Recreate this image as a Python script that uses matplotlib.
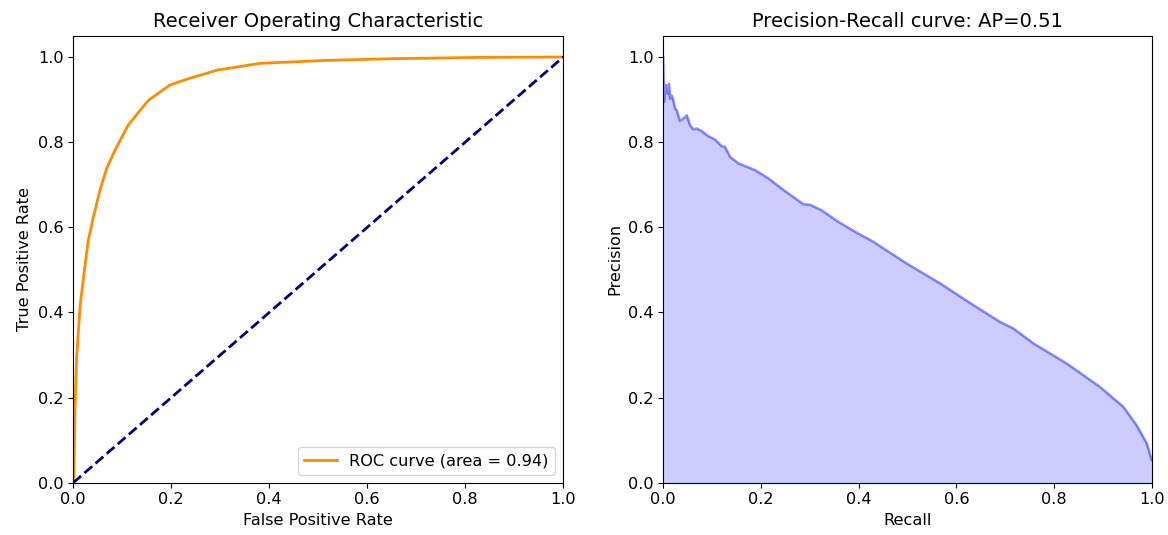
import matplotlib
matplotlib.use("Agg")
import matplotlib.pyplot as plt

# ROC curve points
fpr = [0.0, 0.0014, 0.0035, 0.0069, 0.0137, 0.0218, 0.0306, 0.041, 0.0545, 0.068,
       0.085, 0.112, 0.153, 0.197, 0.235, 0.293, 0.381, 0.517, 0.653, 0.823, 1.0]
tpr = [0.0, 0.022, 0.178, 0.296, 0.413, 0.492, 0.570, 0.624, 0.687, 0.738,
       0.781, 0.840, 0.898, 0.934, 0.949, 0.969, 0.985, 0.992, 0.996, 0.999, 1.0]
roc_auc = 0.94

# Precision-recall curve points
recall = [0.0, 0.0014, 0.0055, 0.009, 0.0117, 0.0137, 0.0172, 0.0205, 0.024, 0.0274,
          0.034, 0.041, 0.048, 0.0547, 0.0614, 0.068, 0.0786, 0.092, 0.106, 0.120,
          0.126, 0.137, 0.154, 0.171, 0.188, 0.215, 0.242, 0.270, 0.287, 0.300,
          0.324, 0.358, 0.393, 0.430, 0.498, 0.567, 0.635, 0.689, 0.717, 0.758,
          0.826, 0.894, 0.942, 0.969, 0.990, 1.0]
precision = [1.0, 0.894, 0.934, 0.914, 0.937, 0.902, 0.910, 0.898, 0.879, 0.875,
             0.850, 0.855, 0.863, 0.840, 0.830, 0.832, 0.826, 0.814, 0.806, 0.790,
             0.789, 0.765, 0.750, 0.742, 0.734, 0.715, 0.691, 0.668, 0.654, 0.653,
             0.640, 0.613, 0.589, 0.566, 0.515, 0.468, 0.417, 0.378, 0.362, 0.327,
             0.280, 0.225, 0.178, 0.135, 0.092, 0.053]
ap = 0.51

plt.rcParams['font.size'] = 11.6
plt.rcParams['axes.titlesize'] = 14

fig = plt.figure(figsize=(11.68, 5.35), dpi=100)
ax1 = fig.add_axes([73.3 / 1168, (535 - 482.7) / 535, 490 / 1168, 447 / 535])
ax2 = fig.add_axes([663.3 / 1168, (535 - 482.7) / 535, 488.4 / 1168, 447 / 535])

ax1.plot(fpr, tpr, color='darkorange', lw=2, label='ROC curve (area = %0.2f)' % roc_auc)
ax1.plot([0, 1], [0, 1], color='navy', lw=2, linestyle='--')
ax1.set_xlim([0.0, 1.0])
ax1.set_ylim([0.0, 1.05])
ax1.set_xlabel('False Positive Rate')
ax1.set_ylabel('True Positive Rate')
ax1.set_title('Receiver Operating Characteristic')
ax1.legend(loc='lower right')

ax2.plot(recall, precision, color='b', alpha=0.45, lw=1.8)
ax2.fill_between(recall, precision, alpha=0.2, color='b', lw=0)
ax2.set_xlim([0.0, 1.0])
ax2.set_ylim([0.0, 1.05])
ax2.set_xlabel('Recall')
ax2.set_ylabel('Precision')
ax2.set_title('Precision-Recall curve: AP={0:0.2f}'.format(ap))

fig.savefig('out.png', dpi=100)
